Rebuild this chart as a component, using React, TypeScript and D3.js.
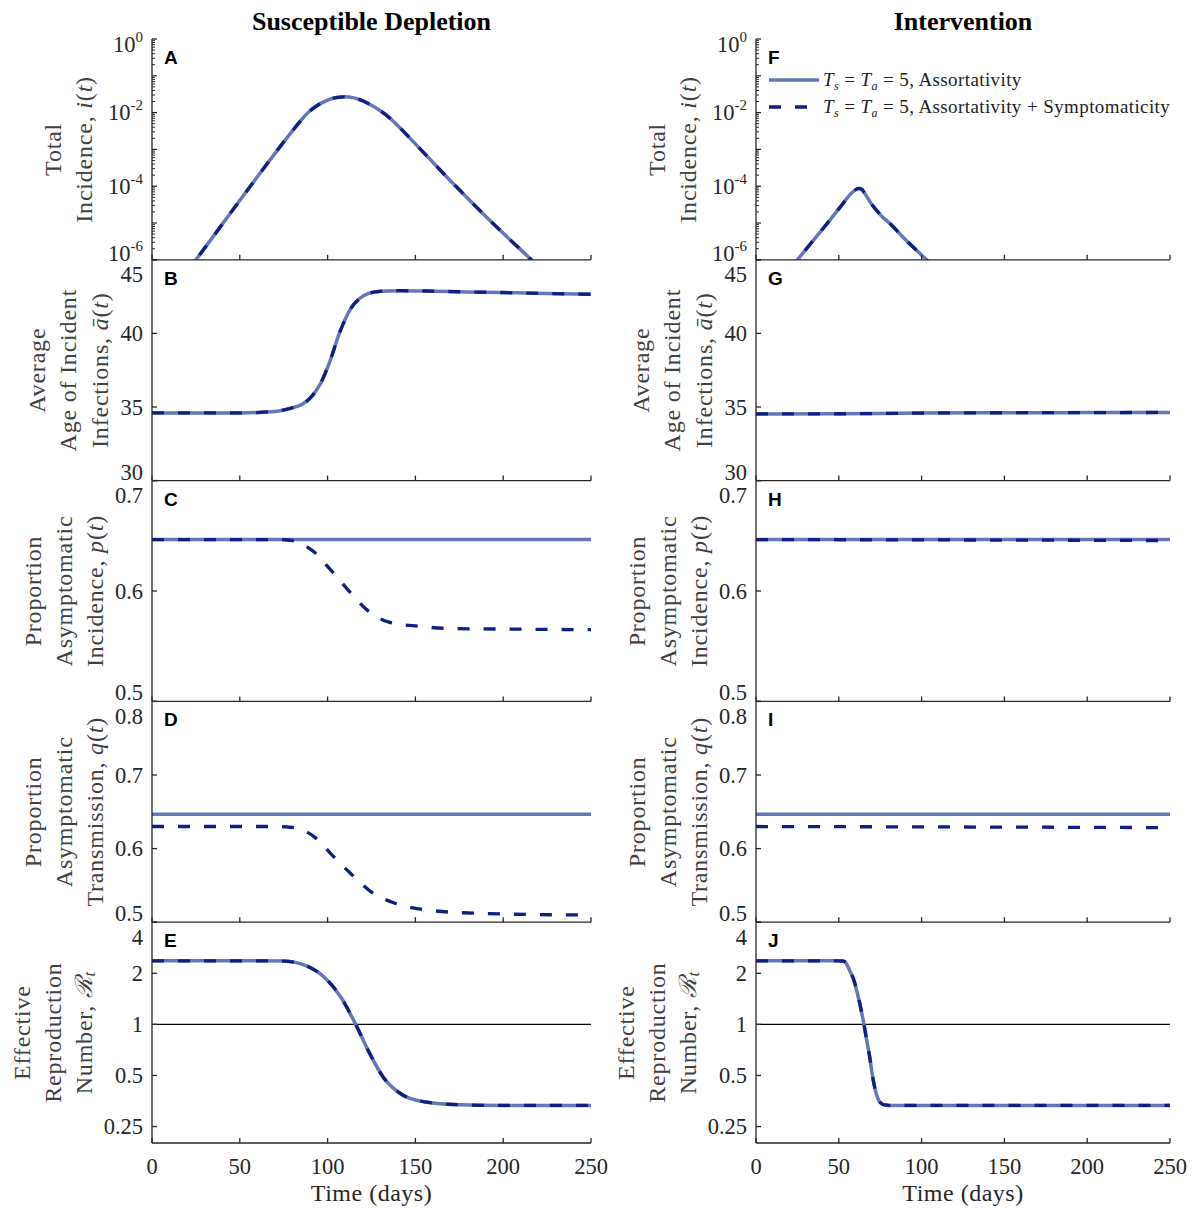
import React from 'react';
import * as d3 from 'd3';

// ---------------- data ----------------
const X_TICKS = [0, 50, 100, 150, 200, 250];
const TITLES = ['Susceptible Depletion', 'Intervention'];
const LETTERS = [['A', 'B', 'C', 'D', 'E'], ['F', 'G', 'H', 'I', 'J']];

// Total incidence i(t)
const tIncA = [0, 25, 56, 80, 85, 90, 95, 100, 105, 110, 115, 120, 125, 130, 135, 140, 152, 173, 195, 216, 250];
const incA = [2.8e-8, 1e-6, 1e-4, 3.2e-3, 6.3e-3, 1.12e-2, 1.66e-2, 2.19e-2, 2.57e-2, 2.69e-2, 2.51e-2, 2.09e-2, 1.58e-2, 1.12e-2, 7.4e-3, 4.4e-3, 1.12e-3, 1e-4, 8.9e-6, 1e-6, 2.5e-8];
const tIncF = [0, 25, 35, 45, 52, 57, 60, 62, 64, 66, 70, 74, 76, 80, 90, 103, 130];
const incF = [4e-8, 1e-6, 3.55e-6, 1.26e-5, 3.16e-5, 6.03e-5, 7.94e-5, 8.71e-5, 8.13e-5, 6.03e-5, 3.16e-5, 1.91e-5, 1.51e-5, 1.05e-5, 3.63e-6, 1e-6, 6.3e-8];

// Average age of incident infections
const tAgeB = [0, 50, 70, 80, 85, 90, 96, 101, 107, 113, 118, 123, 130, 141, 160, 179, 198, 217, 250];
const ageB = [34.6, 34.6, 34.7, 34.95, 35.15, 35.6, 36.6, 38.0, 40.1, 41.65, 42.35, 42.7, 42.86, 42.9, 42.87, 42.82, 42.78, 42.73, 42.66];
const tAgeG = [0, 50, 75, 100, 150, 200, 250];
const ageG = [34.53, 34.54, 34.56, 34.59, 34.61, 34.62, 34.63];

// Proportion asymptomatic incidence p(t)
const tFlat = [0, 125, 250];
const pSolid = [0.6466, 0.6466, 0.6466];
const tPDashC = [0, 70, 77, 85, 92, 102, 112, 122, 128, 135, 152, 171, 202, 250];
const pDashC = [0.6466, 0.6466, 0.6462, 0.643, 0.6357, 0.6186, 0.6004, 0.5835, 0.5765, 0.5718, 0.568, 0.566, 0.5655, 0.565];
const tPDashH = [0, 100, 250];
const pDashH = [0.6466, 0.6463, 0.6457];

// Proportion asymptomatic transmission q(t)
const qSolid = [0.6466, 0.6466, 0.6466];
const tQDashD = [0, 70, 78.6, 85, 92.8, 103, 113.7, 125, 138, 155.5, 183, 240, 250];
const qDashD = [0.630, 0.630, 0.629, 0.626, 0.6153, 0.590, 0.5649, 0.541, 0.526, 0.517, 0.5123, 0.510, 0.510];
const tQDashI = [0, 100, 250];
const qDashI = [0.630, 0.6295, 0.6285];

// Effective reproduction number R_t
const tRtE = [0, 60, 75, 88, 99, 107.6, 116, 123, 131.6, 142.5, 155.6, 175, 200, 250];
const rtE = [2.37, 2.37, 2.36, 2.21, 1.86, 1.445, 1.0, 0.705, 0.49, 0.385, 0.349, 0.336, 0.333, 0.333];
const tRtJ = [0, 50, 52.7, 54.7, 56.6, 58.8, 61.8, 64, 65.2, 66.9, 68.8, 70, 71.8, 73.9, 76, 78, 80, 250];
const rtJ = [2.37, 2.37, 2.36, 2.27, 2.07, 1.86, 1.445, 1.15, 1.0, 0.8, 0.63, 0.52, 0.42, 0.36, 0.34, 0.335, 0.333, 0.333];

const TICKS_INC = [1e-6, 1e-4, 1e-2, 1];
const TICKS_AGE = [30, 35, 40, 45];
const TICKS_P = [0.5, 0.6, 0.7];
const TICKS_Q = [0.5, 0.6, 0.7, 0.8];
const TICKS_RT = [0.25, 0.5, 1, 2, 4];

// ---------------- style / layout ----------------
const SERIF = "'Liberation Serif', 'Times New Roman', serif";
const SANS = "'Liberation Sans', Arial, sans-serif";
const C_SOLID = '#6676B8';
const C_DASH = '#0F1E82';
const AX = '#262626';

const COLS = [[152, 591], [756, 1170]];
const ROW_TOP = 39;
const ROW_H = 220.8;

const I = ({ children }: { children: React.ReactNode }) => <tspan fontStyle="italic">{children}</tspan>;

const YLABELS: React.ReactNode[][] = [
  [<>Total</>, <>Incidence, <I>i</I>(<I>t</I>)</>],
  [<>Average</>, <>Age of Incident</>, <>Infections, <I>ā</I>(<I>t</I>)</>],
  [<>Proportion</>, <>Asymptomatic</>, <>Incidence, <I>p</I>(<I>t</I>)</>],
  [<>Proportion</>, <>Asymptomatic</>, <>Transmission, <I>q</I>(<I>t</I>)</>],
  [<>Effective</>, <>Reproduction</>, <>Number, <I>ℛ</I><tspan dy={5} fontSize="0.7em" fontStyle="italic">t</tspan></>],
];
const YLABEL_X = [[53, 84], [37, 68, 100], [33, 64, 95], [33, 64, 95], [22, 53, 84]];

type Series = { t: number[]; v: number[]; dash: boolean };
type PanelDef = {
  type: 'log' | 'lin';
  domain: [number, number];
  ticks: number[];
  series: Series[];
  hline?: number;
  minor?: boolean;
};

const PANELS: PanelDef[][] = [
  [
    { type: 'log', domain: [1e-6, 1], ticks: TICKS_INC, minor: true, series: [{ t: tIncA, v: incA, dash: false }, { t: tIncA, v: incA, dash: true }] },
    { type: 'lin', domain: [30, 45], ticks: TICKS_AGE, series: [{ t: tAgeB, v: ageB, dash: false }, { t: tAgeB, v: ageB, dash: true }] },
    { type: 'lin', domain: [0.5, 0.7], ticks: TICKS_P, series: [{ t: tFlat, v: pSolid, dash: false }, { t: tPDashC, v: pDashC, dash: true }] },
    { type: 'lin', domain: [0.5, 0.8], ticks: TICKS_Q, series: [{ t: tFlat, v: qSolid, dash: false }, { t: tQDashD, v: qDashD, dash: true }] },
    { type: 'log', domain: [0.2, 4], ticks: TICKS_RT, hline: 1, series: [{ t: tRtE, v: rtE, dash: false }, { t: tRtE, v: rtE, dash: true }] },
  ],
  [
    { type: 'log', domain: [1e-6, 1], ticks: TICKS_INC, minor: true, series: [{ t: tIncF, v: incF, dash: false }, { t: tIncF, v: incF, dash: true }] },
    { type: 'lin', domain: [30, 45], ticks: TICKS_AGE, series: [{ t: tAgeG, v: ageG, dash: false }, { t: tAgeG, v: ageG, dash: true }] },
    { type: 'lin', domain: [0.5, 0.7], ticks: TICKS_P, series: [{ t: tFlat, v: pSolid, dash: false }, { t: tPDashH, v: pDashH, dash: true }] },
    { type: 'lin', domain: [0.5, 0.8], ticks: TICKS_Q, series: [{ t: tFlat, v: qSolid, dash: false }, { t: tQDashI, v: qDashI, dash: true }] },
    { type: 'log', domain: [0.2, 4], ticks: TICKS_RT, hline: 1, series: [{ t: tRtJ, v: rtJ, dash: false }, { t: tRtJ, v: rtJ, dash: true }] },
  ],
];

function Panel({ col, row, def }: { col: number; row: number; def: PanelDef }) {
  const [x0, x1] = COLS[col];
  const top = ROW_TOP + row * ROW_H;
  const bottom = top + ROW_H;
  const x = d3.scaleLinear().domain([0, 250]).range([x0, x1]);
  const y: any = def.type === 'log'
    ? d3.scaleLog().domain(def.domain).range([bottom, top])
    : d3.scaleLinear().domain(def.domain).range([bottom, top]);
  const line = d3.line<[number, number]>().x(d => x(d[0])).y(d => y(d[1])).curve(d3.curveMonotoneX);
  const clipId = `clip-${col}-${row}`;
  const isInc = def.minor;

  const minorTicks: number[] = [];
  const majorNoLabel: number[] = [];
  if (isInc) {
    for (let k = -6; k < 0; k++) {
      const base = Math.pow(10, k);
      if (!def.ticks.includes(base)) majorNoLabel.push(base);
      for (let m = 2; m <= 9; m++) minorTicks.push(m * base);
    }
  }
  const clampTop = isInc ? top + 5.5 : top + 15;
  const clampBot = isInc ? bottom - 6 : bottom - 8.5;
  const showX = row === 4;

  return (
    <g>
      <defs>
        <clipPath id={clipId}>
          <rect x={x0} y={top} width={x1 - x0} height={bottom - top} />
        </clipPath>
      </defs>
      {def.hline !== undefined && (
        <line x1={x0} x2={x1} y1={y(def.hline)} y2={y(def.hline)} stroke="#000" strokeWidth={1.2} />
      )}
      <g clipPath={`url(#${clipId})`}>
        {def.series.map((s, i) => (
          <path
            key={i}
            d={line(s.t.map((t, j) => [t, s.v[j]] as [number, number])) || ''}
            fill="none"
            stroke={s.dash ? C_DASH : C_SOLID}
            strokeWidth={s.dash ? 3.3 : 3.5}
            strokeDasharray={s.dash ? '12 14' : undefined}
          />
        ))}
      </g>
      {/* axes */}
      <line x1={x0} x2={x0} y1={top} y2={bottom} stroke={AX} strokeWidth={1.3} />
      <line x1={x0} x2={x1} y1={bottom} y2={bottom} stroke={AX} strokeWidth={1.3} />
      {X_TICKS.map(t => (
        <line key={t} x1={x(t)} x2={x(t)} y1={bottom} y2={bottom - 5} stroke={AX} strokeWidth={1.3} />
      ))}
      {minorTicks.map((v, i) => (
        <line key={'mi' + i} x1={x0} x2={x0 + 3} y1={y(v)} y2={y(v)} stroke={AX} strokeWidth={1} />
      ))}
      {majorNoLabel.map((v, i) => (
        <line key={'mj' + i} x1={x0} x2={x0 + 5} y1={y(v)} y2={y(v)} stroke={AX} strokeWidth={1.2} />
      ))}
      {def.ticks.map(v => {
        const ty = y(v);
        const cy = Math.max(clampTop, Math.min(clampBot, ty));
        return (
          <g key={v}>
            <line x1={x0} x2={x0 + 5} y1={ty} y2={ty} stroke={AX} strokeWidth={1.3} />
            {isInc ? (
              <text x={x0 - 9} y={cy + 7.5} textAnchor="end" fontFamily={SERIF} fontSize={22.5} fill={AX}>
                10<tspan dy={-10} fontSize={15}>{String(Math.round(Math.log10(v)))}</tspan>
              </text>
            ) : (
              <text x={x0 - 9} y={cy + 7.5} textAnchor="end" fontFamily={SERIF} fontSize={22.5} fill={AX}>
                {String(v)}
              </text>
            )}
          </g>
        );
      })}
      {showX && X_TICKS.map(t => (
        <text key={'xl' + t} x={x(t)} y={1173.5} textAnchor="middle" fontFamily={SERIF} fontSize={22.5} fill={AX}>
          {String(t)}
        </text>
      ))}
      {showX && (
        <text x={(x0 + x1) / 2} y={1201} textAnchor="middle" fontFamily={SERIF} fontSize={24} letterSpacing={0.5} fill={AX}>
          Time (days)
        </text>
      )}
      <text x={x0 + 12} y={top + 25} fontFamily={SANS} fontWeight="bold" fontSize={19} fill="#000">
        {LETTERS[col][row]}
      </text>
      {YLABELS[row].map((content, i) => {
        const cx = YLABEL_X[row][i] + (col === 1 ? 604 : 0);
        const cy = (top + bottom) / 2;
        return (
          <text
            key={'yl' + i}
            transform={`translate(${cx},${cy}) rotate(-90)`}
            textAnchor="middle"
            dominantBaseline="central"
            fontFamily={SERIF}
            fontSize={24}
            letterSpacing={0.8}
            fill="#404040"
          >
            {content}
          </text>
        );
      })}
    </g>
  );
}

function Legend() {
  const lx0 = 769, lx1 = 819, tx = 823;
  const rows = [
    { y: 80, dash: false, extra: 'Assortativity' },
    { y: 107, dash: true, extra: 'Assortativity + Symptomaticity' },
  ];
  return (
    <g>
      {rows.map((r, i) => (
        <g key={i}>
          <line x1={lx0} x2={lx1} y1={r.y} y2={r.y} stroke={r.dash ? C_DASH : C_SOLID} strokeWidth={3.4}
            strokeDasharray={r.dash ? '12 14' : undefined} />
          <text x={tx} y={r.y + 5.5} fontFamily={SERIF} fontSize={19} fill="#222" letterSpacing={0.4}>
            <I>T</I><tspan dy={4} fontSize={12} fontStyle="italic">s</tspan>
            <tspan dy={-4}>{' = '}</tspan><I>T</I><tspan dy={4} fontSize={12} fontStyle="italic">a</tspan>
            <tspan dy={-4}>{' = 5, ' + r.extra}</tspan>
          </text>
        </g>
      ))}
    </g>
  );
}

export default function App() {
  return (
    <svg width={1194} height={1208} viewBox="0 0 1194 1208"
      style={{ position: 'absolute', left: 0, top: 0, display: 'block', background: '#fff' }}>
      <rect x={0} y={0} width={1194} height={1208} fill="#fff" />
      {TITLES.map((t, c) => (
        <text key={t} x={(COLS[c][0] + COLS[c][1]) / 2} y={30} textAnchor="middle" fontFamily={SERIF}
          fontWeight="bold" fontSize={26} fill="#000">{t}</text>
      ))}
      {PANELS.map((colPanels, c) => colPanels.map((def, r) => (
        <Panel key={`${c}-${r}`} col={c} row={r} def={def} />
      )))}
      <Legend />
    </svg>
  );
}
